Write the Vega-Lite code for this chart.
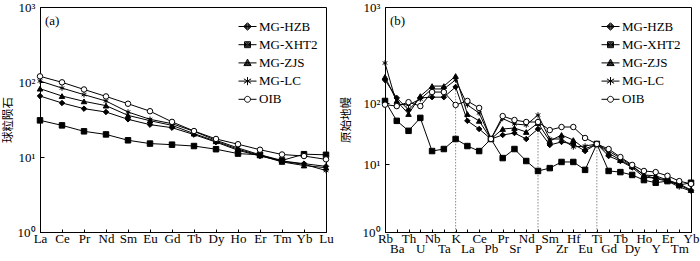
{
  "$schema": "https://vega.github.io/schema/vega-lite/v6.json",
  "background": "white",
  "padding": {"left": 1, "top": 0, "right": 0, "bottom": 0},
  "bounds": "flush",
  "spacing": 59,
  "datasets": {
    "ree": [
      {"s": "MG-HZB", "el": "La", "v": 65}, {"s": "MG-HZB", "el": "Ce", "v": 52.5}, {"s": "MG-HZB", "el": "Pr", "v": 44.1}, {"s": "MG-HZB", "el": "Nd", "v": 39.8}, {"s": "MG-HZB", "el": "Sm", "v": 31.8}, {"s": "MG-HZB", "el": "Eu", "v": 27}, {"s": "MG-HZB", "el": "Gd", "v": 24.6}, {"s": "MG-HZB", "el": "Tb", "v": 19.9}, {"s": "MG-HZB", "el": "Dy", "v": 15.8}, {"s": "MG-HZB", "el": "Ho", "v": 12.3}, {"s": "MG-HZB", "el": "Er", "v": 10.3}, {"s": "MG-HZB", "el": "Tm", "v": 8.85}, {"s": "MG-HZB", "el": "Yb", "v": 8.15}, {"s": "MG-HZB", "el": "Lu", "v": 7.5},
      {"s": "MG-XHT2", "el": "La", "v": 30.8}, {"s": "MG-XHT2", "el": "Ce", "v": 26.4}, {"s": "MG-XHT2", "el": "Pr", "v": 22}, {"s": "MG-XHT2", "el": "Nd", "v": 20}, {"s": "MG-XHT2", "el": "Sm", "v": 16.7}, {"s": "MG-XHT2", "el": "Eu", "v": 15.1}, {"s": "MG-XHT2", "el": "Gd", "v": 14.6}, {"s": "MG-XHT2", "el": "Tb", "v": 14.0}, {"s": "MG-XHT2", "el": "Dy", "v": 12.7}, {"s": "MG-XHT2", "el": "Ho", "v": 11.1}, {"s": "MG-XHT2", "el": "Er", "v": 10.7}, {"s": "MG-XHT2", "el": "Tm", "v": 9.0}, {"s": "MG-XHT2", "el": "Yb", "v": 10.9}, {"s": "MG-XHT2", "el": "Lu", "v": 10.7},
      {"s": "MG-ZJS", "el": "La", "v": 81.5}, {"s": "MG-ZJS", "el": "Ce", "v": 65}, {"s": "MG-ZJS", "el": "Pr", "v": 55.2}, {"s": "MG-ZJS", "el": "Nd", "v": 48.4}, {"s": "MG-ZJS", "el": "Sm", "v": 35.9}, {"s": "MG-ZJS", "el": "Eu", "v": 30.5}, {"s": "MG-ZJS", "el": "Gd", "v": 26.4}, {"s": "MG-ZJS", "el": "Tb", "v": 20.5}, {"s": "MG-ZJS", "el": "Dy", "v": 16.2}, {"s": "MG-ZJS", "el": "Ho", "v": 12.7}, {"s": "MG-ZJS", "el": "Er", "v": 10.5}, {"s": "MG-ZJS", "el": "Tm", "v": 8.6}, {"s": "MG-ZJS", "el": "Yb", "v": 7.7}, {"s": "MG-ZJS", "el": "Lu", "v": 7.2},
      {"s": "MG-LC", "el": "La", "v": 103}, {"s": "MG-LC", "el": "Ce", "v": 83}, {"s": "MG-LC", "el": "Pr", "v": 67.8}, {"s": "MG-LC", "el": "Nd", "v": 55.8}, {"s": "MG-LC", "el": "Sm", "v": 39.8}, {"s": "MG-LC", "el": "Eu", "v": 31.8}, {"s": "MG-LC", "el": "Gd", "v": 27.8}, {"s": "MG-LC", "el": "Tb", "v": 22}, {"s": "MG-LC", "el": "Dy", "v": 16.7}, {"s": "MG-LC", "el": "Ho", "v": 13.2}, {"s": "MG-LC", "el": "Er", "v": 10.7}, {"s": "MG-LC", "el": "Tm", "v": 8.75}, {"s": "MG-LC", "el": "Yb", "v": 8.0}, {"s": "MG-LC", "el": "Lu", "v": 6.6},
      {"s": "OIB", "el": "La", "v": 119}, {"s": "OIB", "el": "Ce", "v": 99}, {"s": "OIB", "el": "Pr", "v": 79.5}, {"s": "OIB", "el": "Nd", "v": 64.2}, {"s": "OIB", "el": "Sm", "v": 51.3}, {"s": "OIB", "el": "Eu", "v": 40.8}, {"s": "OIB", "el": "Gd", "v": 29.4}, {"s": "OIB", "el": "Tb", "v": 22.2}, {"s": "OIB", "el": "Dy", "v": 17.4}, {"s": "OIB", "el": "Ho", "v": 14.8}, {"s": "OIB", "el": "Er", "v": 12.5}, {"s": "OIB", "el": "Tm", "v": 10.8}, {"s": "OIB", "el": "Yb", "v": 10.3}, {"s": "OIB", "el": "Lu", "v": 9.3}
    ],
    "spider": [
      {"s": "MG-HZB", "el": "Rb", "v": 174}, {"s": "MG-HZB", "el": "Ba", "v": 113}, {"s": "MG-HZB", "el": "Th", "v": 77}, {"s": "MG-HZB", "el": "U", "v": 113}, {"s": "MG-HZB", "el": "Nb", "v": 115}, {"s": "MG-HZB", "el": "Ta", "v": 115}, {"s": "MG-HZB", "el": "K", "v": 147}, {"s": "MG-HZB", "el": "La", "v": 51}, {"s": "MG-HZB", "el": "Ce", "v": 37.5}, {"s": "MG-HZB", "el": "Pb", "v": 25.7}, {"s": "MG-HZB", "el": "Pr", "v": 29.9}, {"s": "MG-HZB", "el": "Sr", "v": 32.2}, {"s": "MG-HZB", "el": "Nd", "v": 25.7}, {"s": "MG-HZB", "el": "P", "v": 37.5}, {"s": "MG-HZB", "el": "Sm", "v": 20.5}, {"s": "MG-HZB", "el": "Zr", "v": 23}, {"s": "MG-HZB", "el": "Hf", "v": 21.3}, {"s": "MG-HZB", "el": "Eu", "v": 16.3}, {"s": "MG-HZB", "el": "Ti", "v": 21.3}, {"s": "MG-HZB", "el": "Gd", "v": 13.5}, {"s": "MG-HZB", "el": "Tb", "v": 11.2}, {"s": "MG-HZB", "el": "Dy", "v": 8.9}, {"s": "MG-HZB", "el": "Ho", "v": 6.4}, {"s": "MG-HZB", "el": "Y", "v": 6.2}, {"s": "MG-HZB", "el": "Er", "v": 5.8}, {"s": "MG-HZB", "el": "Tm", "v": 4.9}, {"s": "MG-HZB", "el": "Yb", "v": 4.1},
      {"s": "MG-XHT2", "el": "Rb", "v": 105}, {"s": "MG-XHT2", "el": "Ba", "v": 51}, {"s": "MG-XHT2", "el": "Th", "v": 35}, {"s": "MG-XHT2", "el": "U", "v": 57}, {"s": "MG-XHT2", "el": "Nb", "v": 16.3}, {"s": "MG-XHT2", "el": "Ta", "v": 17.6}, {"s": "MG-XHT2", "el": "K", "v": 25.7}, {"s": "MG-XHT2", "el": "La", "v": 19.7}, {"s": "MG-XHT2", "el": "Ce", "v": 16.3}, {"s": "MG-XHT2", "el": "Pb", "v": 25.7}, {"s": "MG-XHT2", "el": "Pr", "v": 12.5}, {"s": "MG-XHT2", "el": "Sr", "v": 17.6}, {"s": "MG-XHT2", "el": "Nd", "v": 11.2}, {"s": "MG-XHT2", "el": "P", "v": 7.9}, {"s": "MG-XHT2", "el": "Sm", "v": 8.7}, {"s": "MG-XHT2", "el": "Zr", "v": 10.8}, {"s": "MG-XHT2", "el": "Hf", "v": 10.8}, {"s": "MG-XHT2", "el": "Eu", "v": 8.2}, {"s": "MG-XHT2", "el": "Ti", "v": 21.3}, {"s": "MG-XHT2", "el": "Gd", "v": 7.9}, {"s": "MG-XHT2", "el": "Tb", "v": 7.6}, {"s": "MG-XHT2", "el": "Dy", "v": 6.9}, {"s": "MG-XHT2", "el": "Ho", "v": 5.8}, {"s": "MG-XHT2", "el": "Y", "v": 5.3}, {"s": "MG-XHT2", "el": "Er", "v": 5.6}, {"s": "MG-XHT2", "el": "Tm", "v": 4.9}, {"s": "MG-XHT2", "el": "Yb", "v": 5.3},
      {"s": "MG-ZJS", "el": "Rb", "v": 187}, {"s": "MG-ZJS", "el": "Ba", "v": 105}, {"s": "MG-ZJS", "el": "Th", "v": 66}, {"s": "MG-ZJS", "el": "U", "v": 118}, {"s": "MG-ZJS", "el": "Nb", "v": 150}, {"s": "MG-ZJS", "el": "Ta", "v": 150}, {"s": "MG-ZJS", "el": "K", "v": 191}, {"s": "MG-ZJS", "el": "La", "v": 66}, {"s": "MG-ZJS", "el": "Ce", "v": 51}, {"s": "MG-ZJS", "el": "Pb", "v": 25.7}, {"s": "MG-ZJS", "el": "Pr", "v": 37.5}, {"s": "MG-ZJS", "el": "Sr", "v": 38.9}, {"s": "MG-ZJS", "el": "Nd", "v": 33.5}, {"s": "MG-ZJS", "el": "P", "v": 47}, {"s": "MG-ZJS", "el": "Sm", "v": 23.8}, {"s": "MG-ZJS", "el": "Zr", "v": 29.9}, {"s": "MG-ZJS", "el": "Hf", "v": 24.7}, {"s": "MG-ZJS", "el": "Eu", "v": 17.6}, {"s": "MG-ZJS", "el": "Ti", "v": 21.3}, {"s": "MG-ZJS", "el": "Gd", "v": 15.1}, {"s": "MG-ZJS", "el": "Tb", "v": 11.6}, {"s": "MG-ZJS", "el": "Dy", "v": 9.2}, {"s": "MG-ZJS", "el": "Ho", "v": 6.9}, {"s": "MG-ZJS", "el": "Y", "v": 6.7}, {"s": "MG-ZJS", "el": "Er", "v": 5.8}, {"s": "MG-ZJS", "el": "Tm", "v": 5.1}, {"s": "MG-ZJS", "el": "Yb", "v": 4.15},
      {"s": "MG-LC", "el": "Rb", "v": 261}, {"s": "MG-LC", "el": "Ba", "v": 96}, {"s": "MG-LC", "el": "Th", "v": 93}, {"s": "MG-LC", "el": "U", "v": 110}, {"s": "MG-LC", "el": "Nb", "v": 140}, {"s": "MG-LC", "el": "Ta", "v": 140}, {"s": "MG-LC", "el": "K", "v": 174}, {"s": "MG-LC", "el": "La", "v": 93}, {"s": "MG-LC", "el": "Ce", "v": 68.5}, {"s": "MG-LC", "el": "Pb", "v": 25.7}, {"s": "MG-LC", "el": "Pr", "v": 55.7}, {"s": "MG-LC", "el": "Sr", "v": 45.3}, {"s": "MG-LC", "el": "Nd", "v": 43.6}, {"s": "MG-LC", "el": "P", "v": 63.5}, {"s": "MG-LC", "el": "Sm", "v": 25.7}, {"s": "MG-LC", "el": "Zr", "v": 25.7}, {"s": "MG-LC", "el": "Hf", "v": 19}, {"s": "MG-LC", "el": "Eu", "v": 19.7}, {"s": "MG-LC", "el": "Ti", "v": 21.3}, {"s": "MG-LC", "el": "Gd", "v": 16.3}, {"s": "MG-LC", "el": "Tb", "v": 12.5}, {"s": "MG-LC", "el": "Dy", "v": 9.4}, {"s": "MG-LC", "el": "Ho", "v": 6.9}, {"s": "MG-LC", "el": "Y", "v": 6.1}, {"s": "MG-LC", "el": "Er", "v": 5.6}, {"s": "MG-LC", "el": "Tm", "v": 4.6}, {"s": "MG-LC", "el": "Yb", "v": 4.0},
      {"s": "OIB", "el": "Rb", "v": 94}, {"s": "OIB", "el": "Ba", "v": 89}, {"s": "OIB", "el": "Th", "v": 102}, {"s": "OIB", "el": "U", "v": 89}, {"s": "OIB", "el": "Nb", "v": 130}, {"s": "OIB", "el": "Ta", "v": 130}, {"s": "OIB", "el": "K", "v": 93}, {"s": "OIB", "el": "La", "v": 105}, {"s": "OIB", "el": "Ce", "v": 83}, {"s": "OIB", "el": "Pb", "v": 25.7}, {"s": "OIB", "el": "Pr", "v": 61}, {"s": "OIB", "el": "Sr", "v": 52.6}, {"s": "OIB", "el": "Nd", "v": 48.8}, {"s": "OIB", "el": "P", "v": 48.8}, {"s": "OIB", "el": "Sm", "v": 36}, {"s": "OIB", "el": "Zr", "v": 40.4}, {"s": "OIB", "el": "Hf", "v": 40.4}, {"s": "OIB", "el": "Eu", "v": 26.7}, {"s": "OIB", "el": "Ti", "v": 21.3}, {"s": "OIB", "el": "Gd", "v": 17.6}, {"s": "OIB", "el": "Tb", "v": 13.0}, {"s": "OIB", "el": "Dy", "v": 9.7}, {"s": "OIB", "el": "Ho", "v": 7.9}, {"s": "OIB", "el": "Y", "v": 7.6}, {"s": "OIB", "el": "Er", "v": 6.7}, {"s": "OIB", "el": "Tm", "v": 5.6}, {"s": "OIB", "el": "Yb", "v": 5.1}
    ],
    "guides": [
      {"el": "K", "top": 147}, {"el": "P", "top": 63.5}, {"el": "Ti", "top": 21.3}
    ]
  },
  "hconcat": [
    {
      "width": 286,
      "height": 225,
      "title": {"text": "(a)", "anchor": "start", "frame": "group", "offset": -27, "dx": 5, "font": "Liberation Serif", "fontSize": 13, "fontWeight": "normal", "color": "black"},
      "data": {"name": "ree"},
      "encoding": {
        "x": {"field": "el", "type": "nominal", "scale": {"type": "point", "padding": 0, "domain": ["La", "Ce", "Pr", "Nd", "Sm", "Eu", "Gd", "Tb", "Dy", "Ho", "Er", "Tm", "Yb", "Lu"]},
          "axis": {"title": null, "labelAngle": 0, "tickSize": -3, "labelPadding": 3, "labelOverlap": false}},
        "y": {"field": "v", "type": "quantitative", "scale": {"type": "log", "domain": [1, 1000], "nice": false},
          "axis": {"title": "球粒陨石", "values": [1, 10, 100, 1000], "labelExpr": "datum.value == 1 ? '10⁰' : datum.value == 10 ? '10¹' : datum.value == 100 ? '10²' : '10³'", "tickSize": -4, "labelPadding": 9, "titlePadding": 4}}
      },
      "layer": [
        {"mark": {"type": "line", "color": "black", "strokeWidth": 1}, "encoding": {"detail": {"field": "s"}}},
        {"mark": {"type": "point", "filled": true, "stroke": "black", "strokeWidth": 1, "size": 30, "opacity": 1},
          "encoding": {
            "shape": {"field": "s", "type": "nominal", "scale": {"domain": ["MG-HZB", "MG-XHT2", "MG-ZJS", "MG-LC", "OIB"], "range": ["diamond", "square", "triangle-up", "M0,-1V1M-0.87,-0.5L0.87,0.5M-0.87,0.5L0.87,-0.5", "circle"]}, "legend": null},
            "fill": {"field": "s", "type": "nominal", "scale": {"domain": ["MG-HZB", "MG-XHT2", "MG-ZJS", "MG-LC", "OIB"], "range": ["black", "black", "black", "black", "white"]}, "legend": null}
          }},
        {"transform": [{"filter": "false"}],
          "mark": {"type": "point", "filled": false, "color": "black", "strokeWidth": 1, "opacity": 1},
          "encoding": {
            "shape": {"field": "s", "type": "nominal", "scale": {"domain": ["MG-HZB", "MG-XHT2", "MG-ZJS", "MG-LC", "OIB"], "range": [
              "M-1,0H1M0,-0.42L0.42,0L0,0.42L-0.42,0ZM0,-0.31L0.31,0L0,0.31L-0.31,0ZM0,-0.2L0.2,0L0,0.2L-0.2,0ZM0,-0.09L0.09,0L0,0.09L-0.09,0Z",
              "M-1,0H1M-0.33,-0.33H0.33V0.33H-0.33ZM-0.22,-0.22H0.22V0.22H-0.22ZM-0.11,-0.11H0.11V0.11H-0.11Z",
              "M-1,0H1M0,-0.42L0.4,0.3H-0.4ZM0,-0.26L0.26,0.22H-0.26ZM0,-0.1L0.12,0.14H-0.12Z",
              "M-1,0H1M0,-0.45V0.45M-0.4,-0.25L0.4,0.25M-0.4,0.25L0.4,-0.25",
              "M-1,0H-0.33M0.33,0H1M0.33,0A0.33,0.33 0 1,1 -0.33,0A0.33,0.33 0 1,1 0.33,0Z"]},
              "legend": {"orient": "none", "legendX": 198, "legendY": 10}}
          }}
      ],
      "resolve": {"scale": {"shape": "independent"}}
    },
    {
      "width": 306,
      "height": 225,
      "title": {"text": "(b)", "anchor": "start", "frame": "group", "offset": -27, "dx": 5, "font": "Liberation Serif", "fontSize": 13, "fontWeight": "normal", "color": "black"},
      "data": {"name": "spider"},
      "encoding": {
        "x": {"field": "el", "type": "nominal", "scale": {"type": "point", "padding": 0, "domain": ["Rb", "Ba", "Th", "U", "Nb", "Ta", "K", "La", "Ce", "Pb", "Pr", "Sr", "Nd", "P", "Sm", "Zr", "Hf", "Eu", "Ti", "Gd", "Tb", "Dy", "Ho", "Y", "Er", "Tm", "Yb"]},
          "axis": {"title": null, "labelAngle": 0, "tickSize": -3, "labelPadding": 3, "labelOverlap": false, "labelLineHeight": 10,
            "labelExpr": "indexof(['Ba','U','Ta','La','Pb','Sr','P','Zr','Eu','Gd','Dy','Y','Tm'], datum.value) >= 0 ? ['', datum.value] : datum.value"}},
        "y": {"field": "v", "type": "quantitative", "scale": {"type": "log", "domain": [1, 10, 100, 1000], "range": [225, 157, 96, 0], "nice": false},
          "axis": {"title": "原始地幔", "values": [1, 10, 100, 1000], "labelExpr": "datum.value == 1 ? '10⁰' : datum.value == 10 ? '10¹' : datum.value == 100 ? '10²' : '10³'", "tickSize": -4, "labelPadding": 9, "titlePadding": 11}}
      },
      "layer": [
        {"mark": {"type": "line", "color": "black", "strokeWidth": 1}, "encoding": {"detail": {"field": "s"}}},
        {"data": {"name": "guides"}, "mark": {"type": "rule", "color": "#8a8a8a", "strokeWidth": 1, "strokeDash": [1.5, 1.5]},
          "encoding": {"y": {"field": "top", "type": "quantitative"}, "y2": {"datum": 1}}},
        {"mark": {"type": "point", "filled": true, "stroke": "black", "strokeWidth": 1, "size": 30, "opacity": 1},
          "encoding": {
            "shape": {"field": "s", "type": "nominal", "scale": {"domain": ["MG-HZB", "MG-XHT2", "MG-ZJS", "MG-LC", "OIB"], "range": ["diamond", "square", "triangle-up", "M0,-1V1M-0.87,-0.5L0.87,0.5M-0.87,0.5L0.87,-0.5", "circle"]}, "legend": null},
            "fill": {"field": "s", "type": "nominal", "scale": {"domain": ["MG-HZB", "MG-XHT2", "MG-ZJS", "MG-LC", "OIB"], "range": ["black", "black", "black", "black", "white"]}, "legend": null}
          }},
        {"transform": [{"filter": "false"}],
          "mark": {"type": "point", "filled": false, "color": "black", "strokeWidth": 1, "opacity": 1},
          "encoding": {
            "shape": {"field": "s", "type": "nominal", "scale": {"domain": ["MG-HZB", "MG-XHT2", "MG-ZJS", "MG-LC", "OIB"], "range": [
              "M-1,0H1M0,-0.42L0.42,0L0,0.42L-0.42,0ZM0,-0.31L0.31,0L0,0.31L-0.31,0ZM0,-0.2L0.2,0L0,0.2L-0.2,0ZM0,-0.09L0.09,0L0,0.09L-0.09,0Z",
              "M-1,0H1M-0.33,-0.33H0.33V0.33H-0.33ZM-0.22,-0.22H0.22V0.22H-0.22ZM-0.11,-0.11H0.11V0.11H-0.11Z",
              "M-1,0H1M0,-0.42L0.4,0.3H-0.4ZM0,-0.26L0.26,0.22H-0.26ZM0,-0.1L0.12,0.14H-0.12Z",
              "M-1,0H1M0,-0.45V0.45M-0.4,-0.25L0.4,0.25M-0.4,0.25L0.4,-0.25",
              "M-1,0H-0.33M0.33,0H1M0.33,0A0.33,0.33 0 1,1 -0.33,0A0.33,0.33 0 1,1 0.33,0Z"]},
              "legend": {"orient": "none", "legendX": 216, "legendY": 10}}
          }}
      ],
      "resolve": {"scale": {"shape": "independent"}}
    }
  ],
  "resolve": {"scale": {"shape": "independent", "fill": "independent"}, "legend": {"shape": "independent", "fill": "independent"}},
  "config": {
    "view": {"stroke": "black", "strokeWidth": 1},
    "axis": {"domainColor": "black", "domainWidth": 1, "tickColor": "black", "tickWidth": 1, "labelColor": "black", "labelFont": "Liberation Serif", "labelFontSize": 13, "grid": false, "titleFont": "Noto Sans CJK SC", "titleFontSize": 11.5, "titleFontWeight": "normal", "titleColor": "black"},
    "legend": {
      "title": null, "padding": 0, "symbolSize": 324, "symbolStrokeWidth": 1,
      "labelFont": "Liberation Serif", "labelFontSize": 13, "labelColor": "black", "labelOffset": 2, "rowPadding": 1.2,
      "symbolOpacity": 1
    }
  }
}
